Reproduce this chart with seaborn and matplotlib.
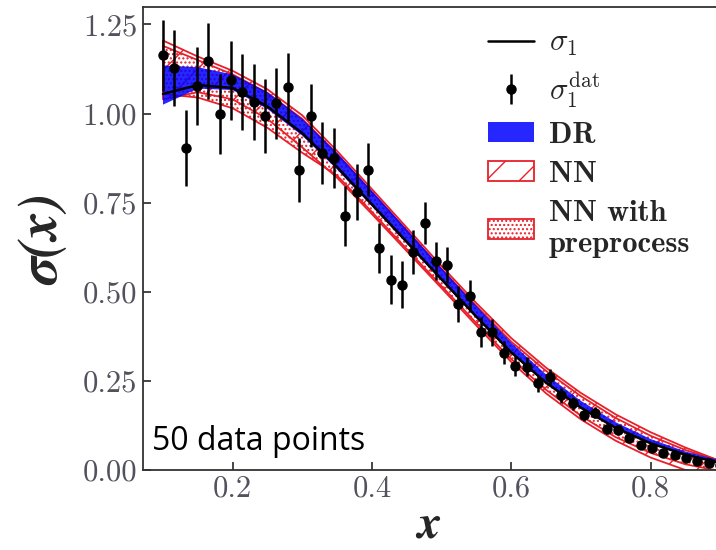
import numpy as np
import pandas as pd
import matplotlib
matplotlib.use('Agg')
import matplotlib.pyplot as plt
from matplotlib.ticker import FormatStrFormatter
import seaborn as sns

# pseudo-data points (x, value, error)
x_dat = [0.100, 0.116, 0.133, 0.149, 0.165, 0.182, 0.198, 0.214, 0.231, 0.247,
         0.263, 0.280, 0.296, 0.312, 0.329, 0.345, 0.361, 0.378, 0.394, 0.410,
         0.427, 0.443, 0.459, 0.476, 0.492, 0.508, 0.524, 0.541, 0.557, 0.573,
         0.590, 0.606, 0.622, 0.639, 0.655, 0.671, 0.688, 0.704, 0.720, 0.737,
         0.753, 0.769, 0.786, 0.802, 0.818, 0.835, 0.851, 0.867, 0.884, 0.900]
y_dat = [1.163, 1.128, 0.903, 1.077, 1.147, 0.998, 1.093, 1.060, 1.032, 0.993,
         1.029, 1.074, 0.841, 0.994, 0.889, 0.875, 0.712, 0.780, 0.843, 0.623,
         0.534, 0.520, 0.612, 0.693, 0.586, 0.575, 0.465, 0.488, 0.386, 0.386,
         0.329, 0.291, 0.290, 0.243, 0.261, 0.210, 0.187, 0.154, 0.161, 0.114,
         0.112, 0.089, 0.070, 0.061, 0.048, 0.042, 0.033, 0.026, 0.020, 0.015]
err_dat = [0.100, 0.107, 0.107, 0.109, 0.107, 0.112, 0.110, 0.107, 0.106, 0.103,
           0.099, 0.096, 0.090, 0.089, 0.088, 0.085, 0.084, 0.079, 0.075, 0.070,
           0.068, 0.065, 0.061, 0.058, 0.054, 0.051, 0.050, 0.044, 0.042, 0.038,
           0.033, 0.028, 0.027, 0.024, 0.023, 0.021, 0.019, 0.017, 0.016, 0.014,
           0.013, 0.011, 0.010, 0.009, 0.008, 0.007, 0.006, 0.005, 0.004, 0.004]

# curves and bands on a coarse grid
x_grid = [0.10, 0.15, 0.20, 0.25, 0.30, 0.35, 0.40, 0.45, 0.50,
          0.55, 0.60, 0.65, 0.70, 0.75, 0.80, 0.85, 0.90, 0.95]
sigma_true = [1.055, 1.080, 1.072, 1.020, 0.945, 0.850, 0.745, 0.640, 0.535,
              0.430, 0.330, 0.245, 0.175, 0.118, 0.075, 0.043, 0.020, 0.006]
dr_lo = [1.025, 1.070, 1.066, 1.013, 0.938, 0.843, 0.740, 0.635, 0.530,
         0.426, 0.326, 0.242, 0.172, 0.116, 0.073, 0.041, 0.018, 0.004]
dr_hi = [1.135, 1.130, 1.110, 1.060, 0.985, 0.890, 0.783, 0.675, 0.566,
         0.460, 0.357, 0.268, 0.194, 0.134, 0.087, 0.052, 0.027, 0.011]
nn_lo = [1.040, 1.060, 1.040, 0.985, 0.905, 0.820, 0.718, 0.614, 0.510,
         0.405, 0.303, 0.215, 0.142, 0.082, 0.035, 0.000, -0.025, -0.045]
nn_hi = [1.205, 1.160, 1.120, 1.068, 0.995, 0.895, 0.788, 0.680, 0.572,
         0.468, 0.370, 0.287, 0.216, 0.156, 0.106, 0.063, 0.025, 0.002]
pp_lo = [1.055, 1.045, 1.015, 0.960, 0.890, 0.826, 0.724, 0.620, 0.516,
         0.412, 0.311, 0.225, 0.152, 0.092, 0.048, 0.016, -0.003, -0.015]
pp_hi = [1.190, 1.150, 1.110, 1.058, 0.985, 0.886, 0.780, 0.672, 0.564,
         0.460, 0.360, 0.278, 0.207, 0.146, 0.096, 0.056, 0.026, 0.008]

x_ticks = [0.2, 0.4, 0.6, 0.8]
y_ticks = [0.00, 0.25, 0.50, 0.75, 1.00, 1.25]

sns.set_style('ticks')
plt.rcParams['font.family'] = ['cmr10', 'DejaVu Serif']
plt.rcParams['mathtext.fontset'] = 'cm'
plt.rcParams['axes.formatter.use_mathtext'] = True
plt.rcParams['hatch.linewidth'] = 1.0

fig = plt.figure(figsize=(7.16, 5.5), dpi=100)
ax = fig.add_axes([0.1993, 0.1455, 0.8007, 0.8424])

df_band = pd.DataFrame({'x': x_grid, 'sigma': sigma_true})

ax.fill_between(x_grid, nn_lo, nn_hi, facecolor='none', edgecolor='#e8202a',
                hatch='/', linewidth=1.3, label='NN', zorder=2)
ax.fill_between(x_grid, pp_lo, pp_hi, facecolor='none', edgecolor='#e8202a',
                hatch='....', linewidth=1.3, label='NN with\npreprocess', zorder=2)
ax.fill_between(x_grid, dr_lo, dr_hi, facecolor='#0000ff', edgecolor='none',
                alpha=0.85, label='DR', zorder=3)
sns.lineplot(data=df_band, x='x', y='sigma', color='black', linewidth=1.8,
             ax=ax, label=r'$\sigma_1$', zorder=4)
ax.errorbar(x_dat, y_dat, yerr=err_dat, fmt='o', color='black', ms=6.5,
            elinewidth=1.8, capsize=0, label=r'$\sigma_1^{\rm dat}$', zorder=5)

ax.set_xlim(0.0709, 0.894)
ax.set_ylim(0.0, 1.30)
ax.set_xticks(x_ticks)
ax.set_yticks(y_ticks)
ax.xaxis.set_major_formatter(FormatStrFormatter('%.1f'))
ax.yaxis.set_major_formatter(FormatStrFormatter('%.2f'))
ax.tick_params(direction='in', length=6, width=1.2, labelsize=22,
               labelcolor='#52525e', pad=4)
ax.spines['right'].set_visible(False)
for s in ['left', 'bottom', 'top']:
    ax.spines[s].set_linewidth(1.3)
    ax.spines[s].set_color('#333333')

ax.set_xlabel('x', family='STIXGeneral', style='italic', weight='bold',
              fontsize=34, labelpad=1)
ax.set_ylabel('σ(x)', family='STIXGeneral', style='italic', weight='bold',
              fontsize=40, labelpad=10)

handles, labels = ax.get_legend_handles_labels()
order = [r'$\sigma_1$', r'$\sigma_1^{\rm dat}$', 'DR', 'NN', 'NN with\npreprocess']
hmap = dict(zip(labels, handles))
ax.legend([hmap[k] for k in order], order, loc='upper left',
          bbox_to_anchor=(488 / 716, 1 - 30 / 550), bbox_transform=fig.transFigure,
          frameon=False, borderpad=0, borderaxespad=0,
          prop={'family': 'cmb10', 'size': 22},
          handlelength=1.5, handleheight=0.65, labelspacing=0.4, handletextpad=0.5)

ax.text(0.016, 0.043, '50 data points', transform=ax.transAxes,
        family='Open Sans', fontsize=23, color='black', va='baseline', ha='left')

fig.savefig('out.png', dpi=100)
